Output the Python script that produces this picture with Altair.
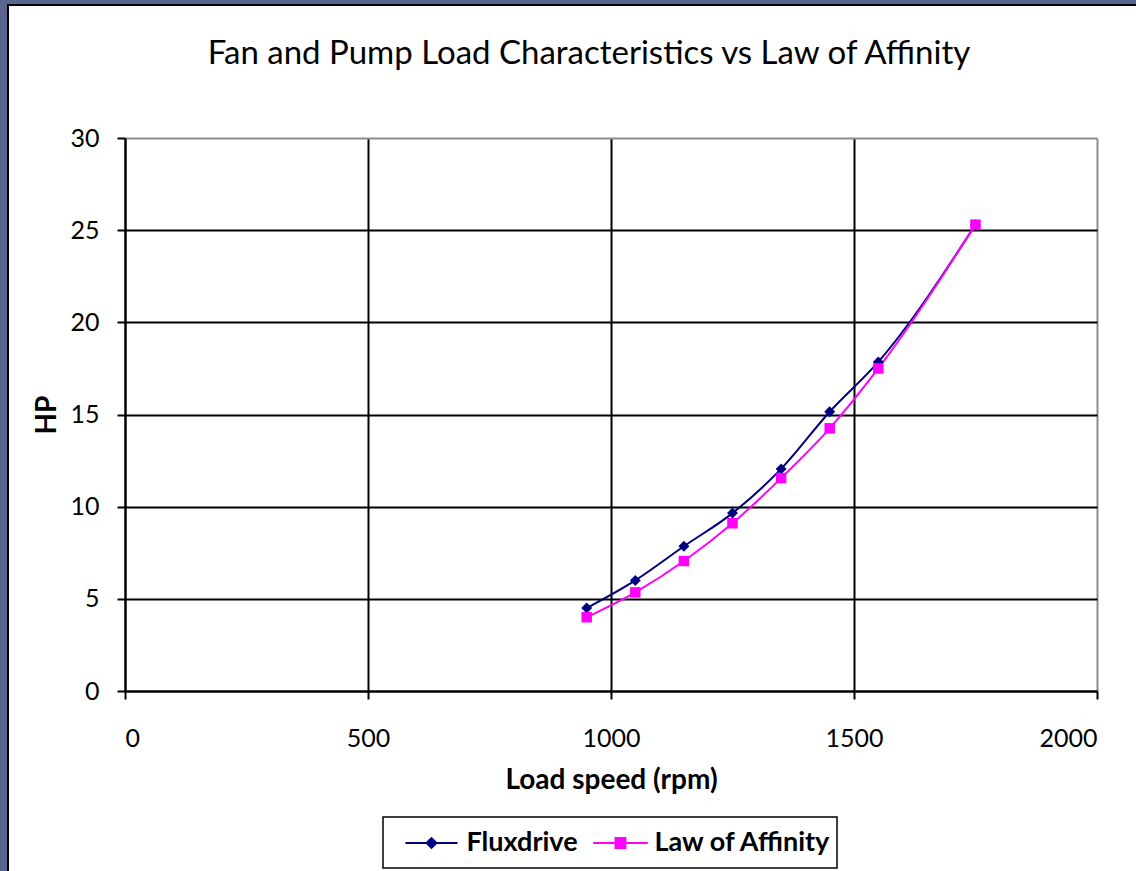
import altair as alt
import pandas as pd

speed = [950, 1050, 1150, 1250, 1350, 1450, 1550, 1750]
fluxdrive = [4.5, 6.0, 7.85, 9.65, 12.05, 15.15, 17.85, 25.3]
affinity = [4.0, 5.35, 7.05, 9.1, 11.55, 14.25, 17.5, 25.3]
series_names = ["Fluxdrive", "Law of Affinity"]
series_colors = ["#000080", "#FF00FF"]
x_ticks = [0, 500, 1000, 1500, 2000]
y_ticks = [0, 5, 10, 15, 20, 25, 30]

rows = []
for s, f, a in zip(speed, fluxdrive, affinity):
    rows.append({"speed": s, "hp": f, "series": series_names[0]})
    rows.append({"speed": s, "hp": a, "series": series_names[1]})
df = pd.DataFrame(rows)

FONT = "Lato"
W, H = 972, 553
PL, PT, PR, PB = 125, 138, 39, 180

diamond_path = "M-2,0L2,0M-0.38,0L0,-0.38L0.38,0L0,0.38Z"
square_path = "M-2.1,0L2.1,0M-0.38,-0.38L0.38,-0.38L0.38,0.38L-0.38,0.38Z"


def make_legend(name, lx, sym, col, label_off):
    return alt.Legend(
        orient="none", legendX=lx, legendY=691, direction="horizontal", title=None,
        values=[name], padding=0, symbolOffset=0, labelOffset=label_off, labelLimit=400,
        labelFont=FONT, labelFontSize=27, labelFontWeight="bold", labelColor="black",
        symbolSize=676, symbolStrokeWidth=2, symbolOpacity=1, symbolType=sym,
        symbolFillColor=col, symbolStrokeColor=col,
    )


x = alt.X("speed:Q", scale=alt.Scale(domain=[0, 2000], nice=False),
          axis=alt.Axis(values=x_ticks, format="d", title="Load speed (rpm)", labelPadding=27, titlePadding=15,
                        gridColor=alt.condition("datum.value === 2000", alt.value("#8c8c8c"), alt.value("black"))))
y = alt.Y("hp:Q", scale=alt.Scale(domain=[0, 30], nice=False),
          axis=alt.Axis(values=y_ticks, title="HP", labelPadding=18, titlePadding=8,
                        gridColor=alt.condition("datum.value === 30", alt.value("#8c8c8c"), alt.value("black"))))

color_scale = alt.Scale(domain=series_names, range=series_colors)

base = alt.Chart(df)
lines = base.mark_line(strokeWidth=2, interpolate="monotone").encode(
    x=x, y=y, color=alt.Color("series:N", scale=color_scale, legend=None))
pts_flux = base.transform_filter(alt.datum.series == series_names[0]).mark_point(
    filled=True, opacity=1, shape="diamond", size=120).encode(
    x=x, y=y, color=alt.Color("series:N", scale=color_scale,
                              legend=make_legend(series_names[0], 292.5, diamond_path, series_colors[0], 21)))
pts_aff = base.transform_filter(alt.datum.series == series_names[1]).mark_point(
    filled=True, opacity=1, shape="square", size=110).encode(
    x=x, y=y, color=alt.Color("series:N", scale=color_scale,
                              legend=make_legend(series_names[1], 481.5, square_path, series_colors[1], 20)))

legend_box = alt.Chart(alt.Data(values=[{"k": 0}])).mark_rect(
    fill="white", fillOpacity=0, stroke="black", strokeWidth=1.5).encode(
    x=alt.value(258), x2=alt.value(712), y=alt.value(679), y2=alt.value(730))


def band(x1, x2, y1, y2, c):
    return alt.Chart(alt.Data(values=[{"k": 0}])).mark_rect(color=c).encode(
        x=alt.value(x1), x2=alt.value(x2), y=alt.value(y1), y2=alt.value(y2))


frame_blue = "#5a6592"
frame = [
    band(-PL, -PL + 7, -PT, H + PB, frame_blue),
    band(-PL, W + PR, -PT, -PT + 4, frame_blue),
    band(-PL + 7, -PL + 9, -PT + 4, H + PB, "black"),
    band(-PL + 7, W + PR, -PT + 4, -PT + 6, "black"),
]

chart = alt.layer(*frame, legend_box, lines, pts_flux, pts_aff).resolve_legend(
    color="independent"
).properties(
    width=W, height=H,
    autosize=alt.AutoSizeParams(type="none"),
    padding={"left": PL, "top": PT, "right": PR, "bottom": PB},
    background="white",
    title=alt.Title("Fan and Pump  Load Characteristics vs Law of Affinity", fontSize=33, font=FONT,
                    fontWeight="normal", color="black", offset=-97, baseline="alphabetic",
                    frame="group", dx=-22),
).configure_view(stroke=None).configure_axis(
    domainColor="black", domainWidth=2, tickColor="black", tickWidth=2, tickSize=8,
    labelFont=FONT, labelFontSize=25, labelColor="black",
    titleFont=FONT, titleFontSize=28, titleFontWeight="bold", titleColor="black",
    gridWidth=2, gridOpacity=1,
)

chart.save("out.html", embed_options={"renderer": "svg", "actions": False})
